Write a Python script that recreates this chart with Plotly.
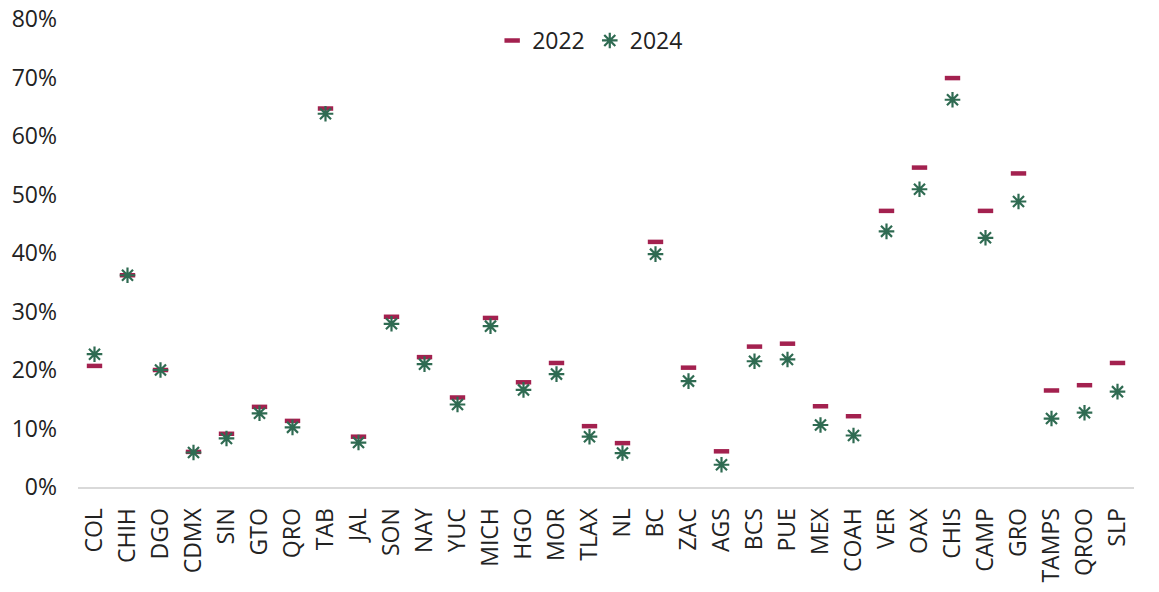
import plotly.graph_objects as go

states = ["COL", "CHIH", "DGO", "CDMX", "SIN", "GTO", "QRO", "TAB", "JAL", "SON", "NAY", "YUC",
          "MICH", "HGO", "MOR", "TLAX", "NL", "BC", "ZAC", "AGS", "BCS", "PUE", "MEX", "COAH",
          "VER", "OAX", "CHIS", "CAMP", "GRO", "TAMPS", "QROO", "SLP"]
v2022 = [20.7, 36.2, 20.0, 6.0, 9.1, 13.7, 11.3, 64.7, 8.6, 29.1, 22.2, 15.3,
         28.9, 17.9, 21.2, 10.4, 7.5, 41.9, 20.4, 6.1, 24.0, 24.5, 13.8, 12.1,
         47.2, 54.6, 69.9, 47.2, 53.6, 16.5, 17.4, 21.2]
v2024 = [22.7, 36.2, 20.0, 5.9, 8.3, 12.6, 10.2, 63.8, 7.6, 27.9, 21.0, 14.1,
         27.5, 16.6, 19.3, 8.6, 5.8, 39.8, 18.1, 3.8, 21.5, 21.8, 10.6, 8.8,
         43.7, 50.9, 66.2, 42.6, 48.8, 11.7, 12.7, 16.3]
y_ticks = [0, 10, 20, 30, 40, 50, 60, 70, 80]

c2022 = "#A3214F"
c2024 = "#2F6B52"

fig = go.Figure()
fig.add_trace(go.Scatter(
    x=states, y=[v / 100 for v in v2022], mode="markers", name="2022",
    marker=dict(symbol="line-ew-open", size=11, color=c2022, line=dict(color=c2022, width=4.5)),
))
fig.add_trace(go.Scatter(
    x=states, y=[v / 100 for v in v2024], mode="markers", name="2024",
    marker=dict(symbol="asterisk-open", size=13, color=c2024, line=dict(color=c2024, width=2.2)),
))

fig.update_layout(
    width=1151, height=584,
    margin=dict(l=70, r=25, t=11, b=105),
    paper_bgcolor="white", plot_bgcolor="white",
    font=dict(family="Open Sans", size=23, color="#222222"),
    showlegend=True,
    legend=dict(orientation="h", x=0.485, xanchor="center", y=1.0, yanchor="top",
                font=dict(size=23), bgcolor="rgba(0,0,0,0)", itemwidth=30,
                tracegroupgap=0),
    xaxis=dict(showgrid=False, showline=True, linecolor="#D9D9D9", linewidth=2,
               tickangle=-90, ticks="", zeroline=False, tickfont=dict(size=23),
               automargin=False, range=[-0.5, len(states) - 0.5],
               ticklabelstandoff=10),
    yaxis=dict(showgrid=False, showline=False, zeroline=False, range=[0, 0.8],
               tickvals=[t / 100 for t in y_ticks], ticktext=[f"{t}%" for t in y_ticks],
               tickfont=dict(size=23), ticks="", automargin=False,
               ticklabelstandoff=20, ticklabeloverflow="allow"),
)

fig.write_html("out.html")
